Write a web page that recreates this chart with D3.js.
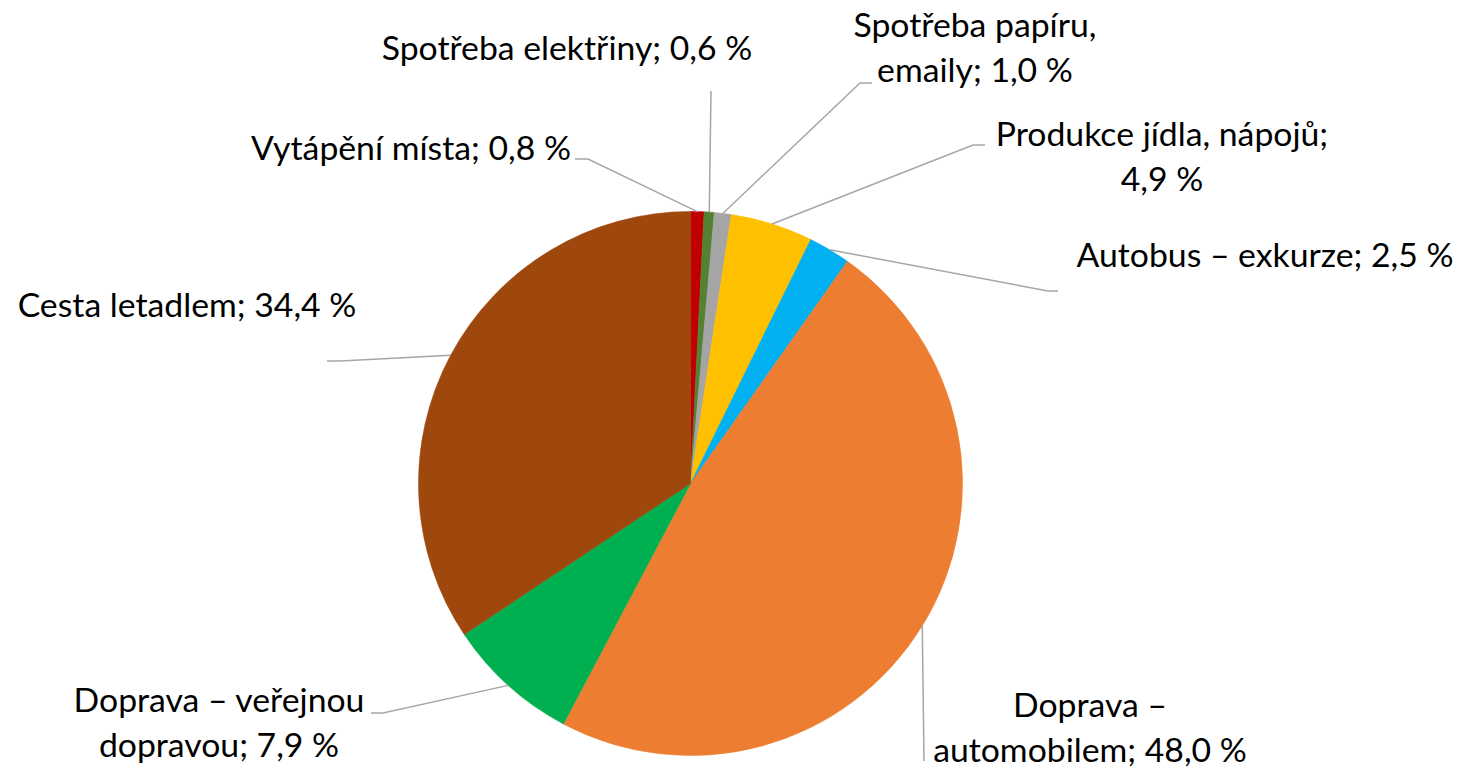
<!DOCTYPE html>
<html>
<head>
<meta charset="utf-8">
<script src="https://cdn.jsdelivr.net/npm/d3@7"></script>
<style>
  html, body { margin: 0; padding: 0; background: #fff; }
  svg { display: block; }
</style>
</head>
<body>
<svg id="chart" width="1465" height="768"></svg>
<script>
// ---- data ----
const categories = [
  "Vytápění místa",
  "Spotřeba elektřiny",
  "Spotřeba papíru, emaily",
  "Produkce jídla, nápojů",
  "Autobus – exkurze",
  "Doprava – automobilem",
  "Doprava – veřejnou dopravou",
  "Cesta letadlem"
];
const values = [0.8, 0.6, 1.0, 4.9, 2.5, 48.0, 7.9, 34.4];
const colors = ["#C00000", "#548235", "#A5A5A5", "#FFC000", "#00B0F0", "#ED7D31", "#00B050", "#9E480E"];

// ---- layout (label placement, leader knees) ----
const labelLayout = [
  {x: 571,  y: 160, anchor: "end",    brk: 0, knee: [588, 159],  end: [575, 159]},
  {x: 567,  y: 60,  anchor: "middle", brk: 0, knee: [711, 91],   end: null},
  {x: 975,  y: 37,  anchor: "middle", brk: 2, knee: [860, 83],   end: [872, 83]},
  {x: 1162, y: 146, anchor: "middle", brk: 3, knee: [973, 145],  end: [985, 145]},
  {x: 1265, y: 267, anchor: "middle", brk: 0, knee: [1048, 291], end: [1058, 291]},
  {x: 1090, y: 717, anchor: "middle", brk: 2, knee: [924, 761],  end: null},
  {x: 219,  y: 712, anchor: "middle", brk: 3, knee: [383, 713],  end: [371, 713]},
  {x: 187,  y: 317, anchor: "middle", brk: 0, knee: [340, 361],  end: [327, 361]}
];
const cx = 690.5, cy = 483.5, R = 272;
const lineHeight = 45;
const fontFamily = "Lato, 'Open Sans', sans-serif";

const svg = d3.select("#chart");

// fit font size so that a reference label has the reference width
const probe = svg.append("text").attr("font-family", fontFamily).attr("font-size", 100)
  .text("Autobus – exkurze; 2,5 %");
const probeW = probe.node().getComputedTextLength();
probe.remove();
const fontSize = 100 * 377 / probeW;

const fmt = v => v.toFixed(1).replace(".", ",") + " %";
const data = categories.map((c, i) => ({name: c, value: values[i], color: colors[i], layout: labelLayout[i]}));

const pie = d3.pie().sort(null).value(d => d.value).startAngle(0).endAngle(2 * Math.PI);
const arcs = pie(data);
const arc = d3.arc().innerRadius(0).outerRadius(R);
const edgeArc = d3.arc().innerRadius(R).outerRadius(R);

const g = svg.append("g").attr("transform", `translate(${cx},${cy})`);

g.selectAll("path.slice").data(arcs).join("path")
  .attr("class", "slice")
  .attr("d", arc)
  .attr("fill", d => d.data.color)
  .attr("stroke", d => d.data.color)
  .attr("stroke-width", 0.6);

// leader lines
const line = d3.line();
svg.append("g").selectAll("path.leader").data(arcs).join("path")
  .attr("class", "leader")
  .attr("d", d => {
    const [ex, ey] = edgeArc.centroid(d);
    const pts = [[cx + ex, cy + ey], d.data.layout.knee];
    if (d.data.layout.end) pts.push(d.data.layout.end);
    return line(pts);
  })
  .attr("fill", "none")
  .attr("stroke", "#A6A6A6")
  .attr("stroke-width", 1.5);

// labels
const labels = svg.append("g").selectAll("text.label").data(arcs).join("text")
  .attr("class", "label")
  .attr("font-family", fontFamily)
  .attr("font-size", fontSize)
  .attr("fill", "#000")
  .attr("text-anchor", d => d.data.layout.anchor)
  .attr("x", d => d.data.layout.x)
  .attr("y", d => d.data.layout.y);

labels.each(function(d) {
  const full = d.data.name + "; " + fmt(d.data.value);
  const words = full.split(" ");
  const brk = d.data.layout.brk;
  const lines = brk > 0 ? [words.slice(0, brk).join(" "), words.slice(brk).join(" ")] : [full];
  d3.select(this).selectAll("tspan").data(lines).join("tspan")
    .attr("x", d.data.layout.x)
    .attr("dy", (l, i) => i === 0 ? 0 : lineHeight)
    .text(l => l);
});
</script>
</body>
</html>
